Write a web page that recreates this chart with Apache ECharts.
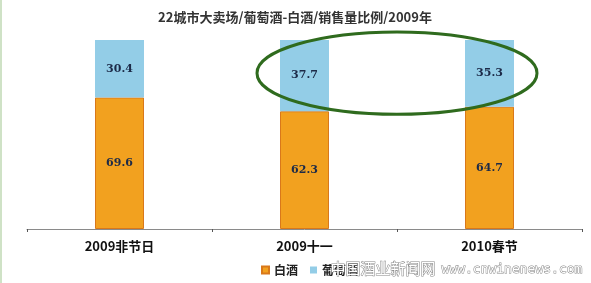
<!DOCTYPE html>
<html><head><meta charset="utf-8">
<script src="https://cdn.jsdelivr.net/npm/echarts@6/dist/echarts.min.js"></script>
<style>html,body{margin:0;padding:0;background:#fff;}#c{width:591px;height:283px;}</style>
</head><body><div id="c"></div>
<script>
const titleText = '22城市大卖场/葡萄酒-白酒/销售量比例/2009年';
const categories = ['2009非节日', '2009十一', '2010春节'];
const baijiu = [69.6, 62.3, 64.7];
const putaojiu = [30.4, 37.7, 35.3];
const seriesNames = ['白酒', '葡萄酒'];

const chart = echarts.init(document.getElementById('c'), null, {renderer: 'canvas'});
const labelStyle = {show: true, position: 'inside', color: '#1c2a48', fontSize: 11, fontWeight: 'bold', fontFamily: 'DejaVu Serif, serif'};
chart.setOption({
  animation: false,
  backgroundColor: '#fff',
  title: {text: titleText, left: 290, textAlign: 'center', top: 6,
    textStyle: {fontSize: 13, fontWeight: 'bold', color: '#333', fontFamily: 'Noto Sans CJK SC'}},
  legend: {bottom: 2, left: 256, itemWidth: 7, itemHeight: 7, itemGap: 12, icon: 'rect',
    textStyle: {fontSize: 12, fontWeight: 'bold', color: '#222', fontFamily: 'Noto Sans CJK SC'},
    data: seriesNames},
  grid: {left: 27, right: 9, top: 40, bottom: 54},
  xAxis: {type: 'category', data: categories,
    axisLine: {lineStyle: {color: '#8a8a8a', width: 1}},
    axisTick: {show: true, length: 3, lineStyle: {color: '#555'}},
    axisLabel: {margin: 11, fontSize: 13, color: '#111', fontFamily: 'Noto Sans CJK SC', fontWeight: 'bold'}},
  yAxis: {type: 'value', min: 0, max: 100, show: false, splitLine: {show: false}},
  series: [
    {name: seriesNames[0], type: 'bar', stack: 's', data: baijiu, barWidth: 49,
      itemStyle: {color: '#F2A11F', borderColor: '#D9781A', borderWidth: 1},
      label: labelStyle},
    {name: seriesNames[1], type: 'bar', stack: 's', data: putaojiu, barWidth: 49,
      itemStyle: {color: '#93CDE7'},
      label: labelStyle}
  ]
});

// annotation ellipse and decorations positioned from axes
const p1 = chart.convertToPixel({gridIndex: 0}, [1, 100]);
const p2 = chart.convertToPixel({gridIndex: 0}, [2, 100]);
const pLow = chart.convertToPixel({gridIndex: 0}, [1, 62.3]);
const ecx = (p1[0] + p2[0]) / 2;
const eTop = p1[1] - 8;
const eBottom = pLow[1] + 3;
chart.setOption({
  graphic: [
    {type: 'rect', left: 0, top: 0, shape: {width: 2, height: 283}, style: {fill: '#cfe2c6'}, z: 100},
    {type: 'ellipse', shape: {cx: ecx, cy: (eTop + eBottom) / 2, rx: 140, ry: (eBottom - eTop) / 2},
      style: {fill: 'none', stroke: '#2f6b1e', lineWidth: 3}, z: 100},
    {type: 'text', left: 330, top: 260, z: 100,
      style: {text: '中国酒业新闻网', fill: '#fff', stroke: '#888', lineWidth: 1, fontSize: 15, fontFamily: 'Noto Sans CJK SC'}},
    {type: 'text', left: 441, top: 263, z: 100,
      style: {text: 'www.cnwinenews.com', fill: '#fff', stroke: '#888', lineWidth: 1, fontSize: 13, fontFamily: 'DejaVu Sans Mono'}}
  ]
});
</script></body></html>
